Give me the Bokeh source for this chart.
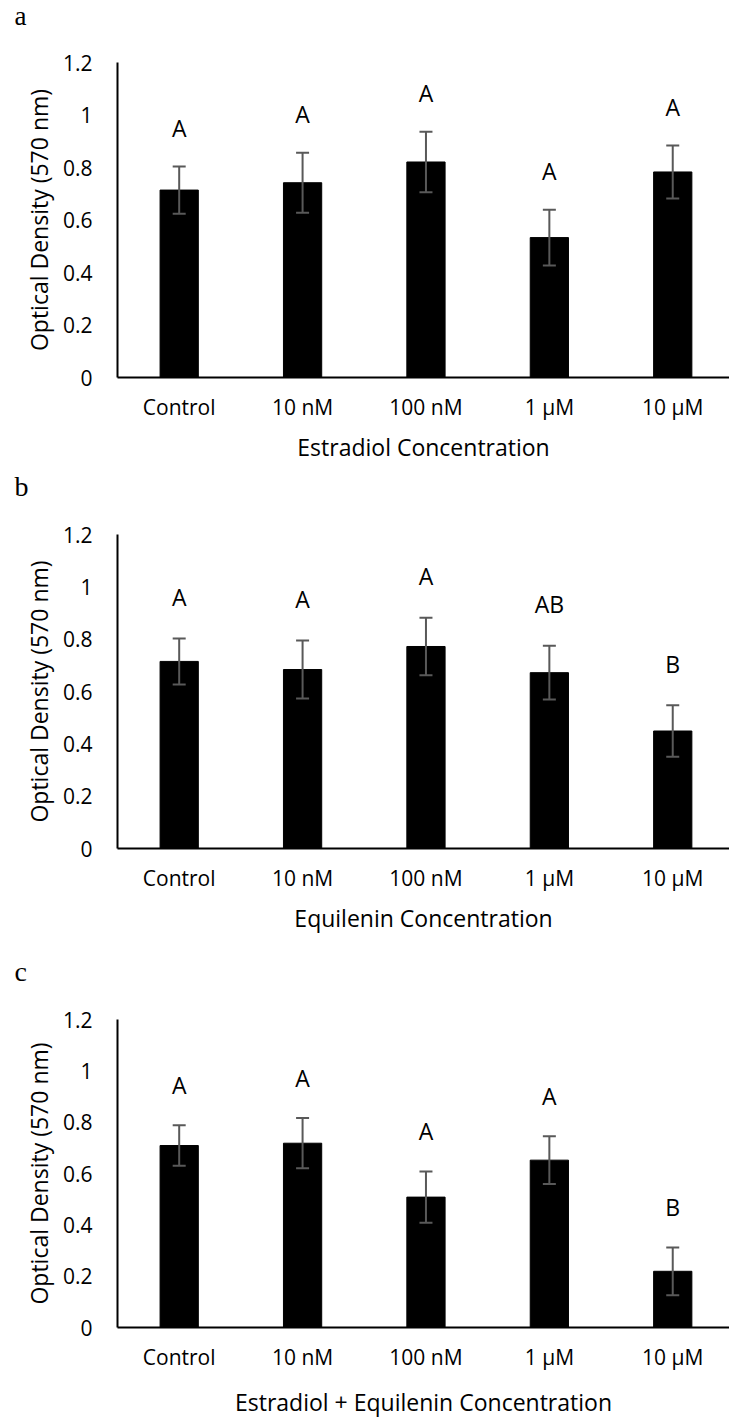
from bokeh.plotting import figure
from bokeh.models import ColumnDataSource, Whisker, TeeHead, Range1d, FixedTicker
from bokeh.layouts import column
from bokeh.embed import file_html
from bokeh.resources import INLINE
from bokeh.core.properties import value

# ---------------- data ----------------
categories = ["Control", "10 nM", "100 nM", "1 µM", "10 µM"]
y_ticks = [0, 0.2, 0.4, 0.6, 0.8, 1.0, 1.2]
y_tick_labels = ["0", "0.2", "0.4", "0.6", "0.8", "1", "1.2"]
y_title = "Optical Density (570 nm)"

panel_letters = ["a", "b", "c"]
x_titles = ["Estradiol Concentration",
            "Equilenin Concentration",
            "Estradiol + Equilenin Concentration"]

means_a = [0.714, 0.742, 0.821, 0.533, 0.783]
errors_a = [0.090, 0.114, 0.115, 0.106, 0.101]
groups_a = ["A", "A", "A", "A", "A"]

means_b = [0.715, 0.684, 0.772, 0.672, 0.449]
errors_b = [0.088, 0.111, 0.110, 0.103, 0.098]
groups_b = ["A", "A", "A", "AB", "B"]

means_c = [0.709, 0.718, 0.508, 0.652, 0.219]
errors_c = [0.079, 0.098, 0.100, 0.093, 0.093]
groups_c = ["A", "A", "A", "A", "B"]

FONT = "Open Sans"
ERR_COLOR = "#595959"


def make_panel(letter, xtitle, means, errors, groups, label_gap,
               height, top, bottom, xtitle_standoff, letter_size):
    xs = [i + 0.5 for i in range(len(categories))]
    upper = [m + e for m, e in zip(means, errors)]
    lower = [m - e for m, e in zip(means, errors)]
    label_y = [u + label_gap for u in upper]
    src = ColumnDataSource(dict(x=xs, top=means, upper=upper, lower=lower,
                                grp=groups, ly=label_y))

    p = figure(width=729, height=height,
               x_range=Range1d(0, 4.96), y_range=Range1d(0, 1.2),
               output_backend="svg", toolbar_location=None,
               min_border_left=117, min_border_right=0,
               min_border_top=top, min_border_bottom=bottom,
               outline_line_color=None, background_fill_color="white",
               border_fill_color="white")

    # panel letter as title, top-left (trailing empty line lifts it to the top)
    p.title.text = letter + "\n"
    p.title.text_font = "Liberation Serif"
    p.title.text_font_size = letter_size
    p.title.text_font_style = "normal"
    p.title.text_color = "black"
    p.title.text_line_height = 1.0
    p.title.align = "left"
    p.title.offset = -103
    p.title.vertical_align = "top"
    p.title.standoff = 0

    p.vbar(x="x", top="top", width=0.31, source=src,
           fill_color="black", line_color="black")

    w = Whisker(base="x", upper="upper", lower="lower", source=src,
                line_color=ERR_COLOR, line_width=2, level="overlay",
                upper_head=TeeHead(size=13, line_color=ERR_COLOR, line_width=2),
                lower_head=TeeHead(size=13, line_color=ERR_COLOR, line_width=2))
    p.add_layout(w)

    p.text(x="x", y="ly", text="grp", source=src,
           text_align="center", text_baseline="middle",
           text_font=value(FONT), text_font_size="23px", text_color="black")

    p.xgrid.visible = False
    p.ygrid.visible = False

    p.xaxis.ticker = FixedTicker(ticks=xs)
    p.xaxis.major_label_overrides = dict(zip(xs, categories))
    p.xaxis.axis_label = xtitle
    p.yaxis.ticker = FixedTicker(ticks=y_ticks)
    p.yaxis.major_label_overrides = dict(zip(y_ticks, y_tick_labels))
    p.yaxis.axis_label = y_title

    for ax in (p.xaxis, p.yaxis):
        ax.axis_line_color = "black"
        ax.axis_line_width = 2
        ax.major_tick_line_color = None
        ax.minor_tick_line_color = None
        ax.major_tick_out = 0
        ax.major_tick_in = 0
        ax.major_label_text_font = FONT
        ax.major_label_text_font_size = "21px"
        ax.major_label_text_color = "black"
        ax.axis_label_text_font = FONT
        ax.axis_label_text_font_size = "23px"
        ax.axis_label_text_font_style = "normal"
        ax.axis_label_text_color = "black"

    p.xaxis.major_label_standoff = 15
    p.xaxis.axis_label_standoff = xtitle_standoff
    p.yaxis.major_label_standoff = 25
    p.yaxis.axis_label_standoff = 5
    return p


pa = make_panel(panel_letters[0], x_titles[0], means_a, errors_a, groups_a, 0.147,
                470, 60, 93, 7, "27px")
pb = make_panel(panel_letters[1], x_titles[1], means_b, errors_b, groups_b, 0.160,
                485, 62, 107, 7, "28px")
pc = make_panel(panel_letters[2], x_titles[2], means_c, errors_c, groups_c, 0.157,
                465, 63, 86, 12, "28px")

layout = column(pa, pb, pc, spacing=0)
open("out.html", "w").write(file_html(layout, INLINE))
